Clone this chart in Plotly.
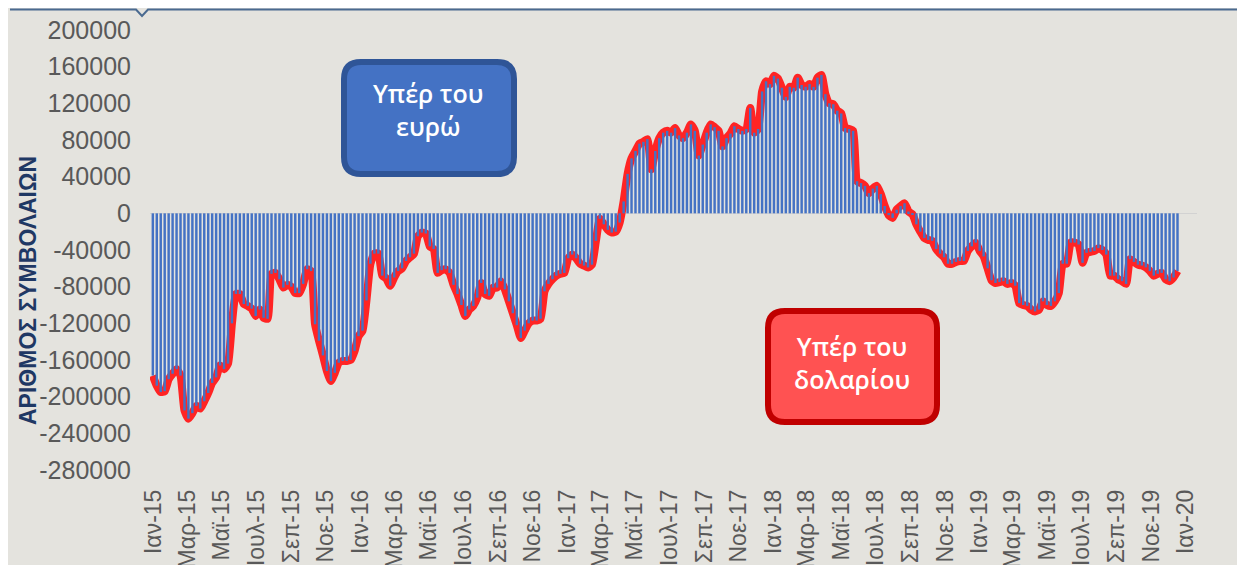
import pandas as pd
import plotly.graph_objects as go

# Weekly net positions (contracts), Dec-2014 .. Dec-2019
net_2015 = [-177000, -188000, -195000, -194000, -181000, -175000, -170000, -177000, -215000, -224000,
            -218000, -210000, -213000, -205000, -196000, -185000, -179000, -166000, -170000, -164000,
            -120000, -88000, -88000, -99000, -101000, -104000, -112000, -105000, -114000, -115000,
            -66000, -65000, -72000, -81000, -78000, -80000, -87000, -87000, -77000, -61000,
            -63000, -121000, -139000, -155000, -172000, -183000, -174000, -163000, -161000, -161000,
            -160000, -150000]
net_2016 = [-134000, -128000, -95000, -55000, -44000, -44000, -68000, -71000, -79000, -70000,
            -63000, -60000, -52000, -48000, -44000, -25000, -21000, -22000, -36000, -39000,
            -65000, -62000, -61000, -65000, -78000, -88000, -100000, -112000, -105000, -101000,
            -92000, -76000, -88000, -90000, -81000, -81000, -74000, -83000, -96000, -109000,
            -122000, -136000, -128000, -120000, -117000, -117000, -115000, -85000, -77000, -72000,
            -68000, -66000]
net_2017 = [-65000, -49000, -45000, -49000, -55000, -57000, -59000, -56000, -30000, -6000,
            -12000, -18000, -21000, -20000, -10000, 13000, 43000, 60000, 68000, 76000,
            78000, 81000, 48000, 68000, 82000, 88000, 90000, 88000, 93000, 85000,
            82000, 88000, 97000, 90000, 63000, 75000, 88000, 97000, 94000, 90000,
            73000, 82000, 87000, 95000, 92000, 90000, 92000, 115000, 88000, 92000,
            133000, 144000]
net_2018 = [141000, 150000, 147000, 137000, 127000, 138000, 137000, 148000, 140000, 138000,
            141000, 138000, 148000, 151000, 130000, 120000, 119000, 112000, 109000, 93000,
            92000, 90000, 35000, 33000, 30000, 22000, 27000, 30000, 21000, 8000,
            -2000, -5000, 4000, 8000, 11000, 2000, -1000, -12000, -20000, -27000,
            -29000, -30000, -39000, -44000, -48000, -55000, -55000, -53000, -52000, -52000,
            -41000, -36000]
net_2019 = [-32000, -41000, -47000, -60000, -73000, -76000, -75000, -74000, -77000, -76000,
            -79000, -98000, -100000, -101000, -105000, -107000, -105000, -96000, -100000, -101000,
            -96000, -87000, -55000, -55000, -32000, -32000, -34000, -54000, -43000, -42000,
            -41000, -38000, -40000, -45000, -68000, -68000, -72000, -74000, -77000, -50000,
            -53000, -56000, -57000, -59000, -63000, -68000, -66000, -65000, -72000, -74000,
            -70000, -63000]

values = net_2015 + net_2016 + net_2017 + net_2018 + net_2019
dates = pd.date_range("2014-12-30", periods=len(values), freq="7D")

month_abbr = ["Ιαν", "Μαρ", "Μαϊ", "Ιουλ", "Σεπ", "Νοε"]
years = [2015, 2016, 2017, 2018, 2019]
tick_vals, tick_text = [], []
for yr in years:
    for k, m in enumerate([1, 3, 5, 7, 9, 11]):
        tick_vals.append(f"{yr}-{m:02d}-01")
        tick_text.append(f"{month_abbr[k]}-{str(yr)[2:]}")
tick_vals.append("2020-01-01")
tick_text.append("Ιαν-20")

y_ticks = list(range(-280000, 200001, 40000))

y_title = "ΑΡΙΘΜΟΣ ΣΥΜΒΟΛΑΙΩΝ"
box_euro = "Υπέρ του<br>ευρώ"
box_usd = "Υπέρ του<br>δολαρίου"

# ---- layout geometry (screen pixels; page body has an 8px margin) ----
OFF = 8
SCREEN_W, SCREEN_H = 1245, 565
W, H = SCREEN_W - OFF, SCREEN_H - OFF
L, R, T, B = 150, 1197, 30, 470          # plot area in screen pixels
PW, PH = R - L, B - T


def px(x):
    return (x - L) / PW


def py(y):
    return (B - y) / PH


def rounded_rect(x0, y0, x1, y1, r):
    pts = [
        f"M {px(x0 + r)},{py(y0)}",
        f"L {px(x1 - r)},{py(y0)}",
        f"Q {px(x1)},{py(y0)} {px(x1)},{py(y0 + r)}",
        f"L {px(x1)},{py(y1 - r)}",
        f"Q {px(x1)},{py(y1)} {px(x1 - r)},{py(y1)}",
        f"L {px(x0 + r)},{py(y1)}",
        f"Q {px(x0)},{py(y1)} {px(x0)},{py(y1 - r)}",
        f"L {px(x0)},{py(y0 + r)}",
        f"Q {px(x0)},{py(y0)} {px(x0 + r)},{py(y0)}",
        "Z",
    ]
    return " ".join(pts)


BG = "#e4e3de"
x_range = ["2014-12-25", "2020-01-20 12:00"]
y_range = [-280000, 200000]

fig = go.Figure()

# red line (drawn on base axes, beneath the bars)
fig.add_trace(go.Scatter(
    x=dates, y=values, mode="lines",
    line=dict(color="#ff2424", width=8, shape="spline", smoothing=0.5),
    xaxis="x", yaxis="y", hoverinfo="skip", showlegend=False,
))

# bars on overlaying axes so they sit above the line
fig.add_trace(go.Bar(
    x=dates, y=values,
    marker=dict(color="#4472c4", line=dict(width=0)),
    xaxis="x2", yaxis="y2", showlegend=False,
))

shapes = [
    # top decorative rule with notch
    dict(type="path", xref="paper", yref="paper",
         path=(f"M {px(10)},{py(9.5)} L {px(136)},{py(9.5)} L {px(142)},{py(16)} "
               f"L {px(148)},{py(9.5)} L {px(1250)},{py(9.5)}"),
         line=dict(color="#4a6a90", width=2)),
    # blue box
    dict(type="path", xref="paper", yref="paper",
         path=rounded_rect(344, 62, 514, 174, 17),
         fillcolor="#4472c4", line=dict(color="#2f5597", width=6)),
    # red box
    dict(type="path", xref="paper", yref="paper",
         path=rounded_rect(768, 311, 937, 422, 17),
         fillcolor="#ff5252", line=dict(color="#c00000", width=6)),
]

box_font = dict(family="Open Sans, sans-serif", size=25, color="white", weight=600)
annotations = [
    dict(text=y_title, xref="paper", yref="paper", x=px(28), y=py(291),
         textangle=-90, showarrow=False, xanchor="center", yanchor="middle",
         font=dict(family="Arial, Liberation Sans, sans-serif", size=23,
                   color="#1f3864", weight="bold")),
    dict(text=box_euro, xref="paper", yref="paper", x=px(428), y=py(110),
         showarrow=False, xanchor="center", yanchor="middle", align="center",
         font=box_font),
    dict(text=box_usd, xref="paper", yref="paper", x=px(852), y=py(362),
         showarrow=False, xanchor="center", yanchor="middle", align="center",
         font=box_font),
]

tick_font = dict(family="Arial, Liberation Sans, sans-serif", size=23, color="#595959")

fig.update_layout(
    width=W, height=H,
    margin=dict(l=L - OFF, r=SCREEN_W - R, t=T - OFF, b=SCREEN_H - B, pad=0),
    paper_bgcolor=BG, plot_bgcolor=BG,
    bargap=0.38,
    showlegend=False,
    shapes=shapes,
    annotations=annotations,
    xaxis=dict(type="date", range=x_range, tickvals=tick_vals, ticktext=tick_text,
               tickangle=-90, tickfont=tick_font, showgrid=False, zeroline=False,
               showline=False, ticks="", ticklabelstandoff=14, fixedrange=True,
               automargin=False),
    yaxis=dict(range=y_range, tickvals=y_ticks, ticktext=[str(v) for v in y_ticks],
               tickfont=dict(family="Arial, Liberation Sans, sans-serif", size=25, color="#595959"),
               showgrid=False, zeroline=True, zerolinecolor="#d2d2d2", zerolinewidth=1,
               showline=False, ticks="", ticklabelstandoff=18, fixedrange=True,
               automargin=False),
    xaxis2=dict(type="date", range=x_range, overlaying="x", visible=False, fixedrange=True,
                automargin=False),
    yaxis2=dict(range=y_range, overlaying="y", visible=False, fixedrange=True,
                automargin=False),
)

fig.write_html("out.html")
